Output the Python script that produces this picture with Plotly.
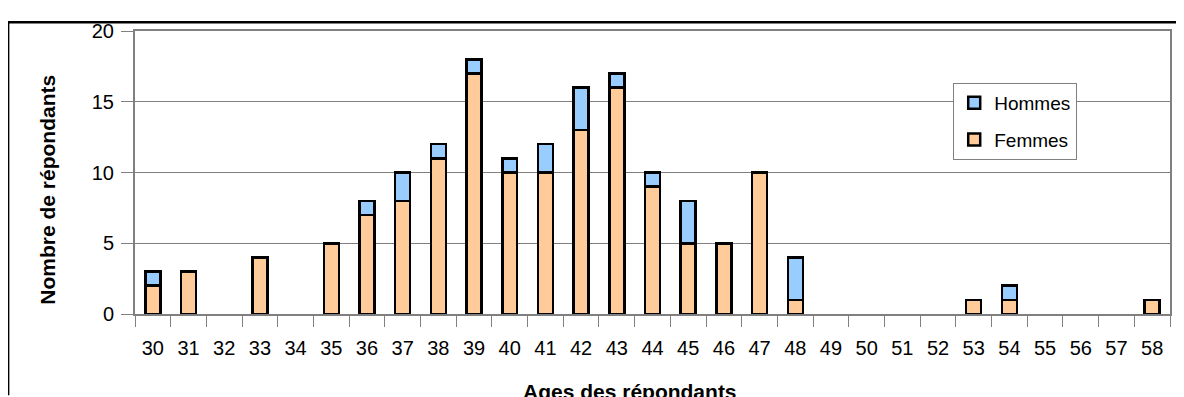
import plotly.graph_objects as go

ages = [str(a) for a in range(30, 59)]
femmes = [2, 3, 0, 4, 0, 5, 7, 8, 11, 17, 10, 10, 13, 16, 9, 5, 5, 10, 1, 0, 0, 0, 0, 1, 1, 0, 0, 0, 1]
hommes = [1, 0, 0, 0, 0, 0, 1, 2, 1, 1, 1, 2, 3, 1, 1, 3, 0, 0, 3, 0, 0, 0, 0, 0, 1, 0, 0, 0, 0]
y_ticks = [0, 5, 10, 15, 20]

# page offset (browser body margin)
OFF = 8
W, H = 1184 - OFF, 397 - OFF
L, R, T, B = 135 - OFF, 1171 - OFF, 25 - OFF, 314 - OFF
pw, ph = R - L, B - T

def px(x):
    return (x - OFF - L) / pw

def py(y):
    return (B - (y - OFF)) / ph

def nz(vals):
    # zero counts draw no bar at all
    return [v if v else None for v in vals]

FONT = "Liberation Sans, Arial, sans-serif"

fig = go.Figure()
fig.add_trace(go.Bar(
    x=ages, y=nz(femmes), name="Femmes", legendrank=2, legendgroup="f",
    marker=dict(color="#FFCC99", line=dict(color="#000000", width=2.5)),
))
fig.add_trace(go.Bar(
    x=ages, y=nz(hommes), name="Hommes", legendrank=1, legendgroup="h",
    marker=dict(color="#99CCFF", line=dict(color="#000000", width=2.5)),
))

fig.update_layout(
    width=W, height=H,
    barmode="stack", bargap=0.58,
    margin=dict(l=L, r=W - R, t=T, b=H - B, pad=0),
    paper_bgcolor="white", plot_bgcolor="white",
    font=dict(family=FONT, size=20, color="#000000"),
    showlegend=True,
    legend=dict(
        x=px(954), y=py(78), xanchor="left", yanchor="top",
        bgcolor="white", bordercolor="#808080", borderwidth=1,
        font=dict(size=19, family=FONT, color="#000000"),
        traceorder="grouped", tracegroupgap=9,
    ),
    xaxis=dict(
        type="category", categoryorder="array", categoryarray=ages,
        tickvals=ages, ticktext=ages,
        showgrid=False, ticks="outside", tickson="boundaries",
        ticklen=11, tickcolor="#808080", tickwidth=1,
        showline=True, linecolor="#808080", linewidth=2, mirror=True,
        tickfont=dict(size=20), ticklabelstandoff=15,
        fixedrange=True,
    ),
    yaxis=dict(
        range=[0, 20], tickvals=y_ticks, ticktext=[str(v) for v in y_ticks],
        showgrid=True, gridcolor="#808080", gridwidth=1,
        ticks="outside", ticklen=12, tickcolor="#808080", tickwidth=1,
        showline=True, linecolor="#808080", linewidth=2, mirror=True,
        tickfont=dict(size=20), ticklabelstandoff=3,
        zeroline=False, fixedrange=True,
    ),
    shapes=[
        dict(type="line", xref="paper", yref="paper",
             x0=px(7), x1=px(1184), y0=py(16), y1=py(16),
             line=dict(color="#000000", width=2.5)),
        dict(type="line", xref="paper", yref="paper",
             x0=px(8.5), x1=px(8.5), y0=py(16), y1=py(397),
             line=dict(color="#000000", width=1.5)),
    ],
    annotations=[
        dict(text="<b>Nombre de répondants</b>", xref="paper", yref="paper",
             x=px(48), y=py(187), xanchor="center", yanchor="middle",
             textangle=-90, showarrow=False, font=dict(size=21, family=FONT)),
        dict(text="<b>Ages des répondants</b>", xref="paper", yref="paper",
             x=px(630), y=py(393), xanchor="center", yanchor="middle",
             showarrow=False, font=dict(size=21, family=FONT)),
    ],
)

fig.write_html("out.html")
